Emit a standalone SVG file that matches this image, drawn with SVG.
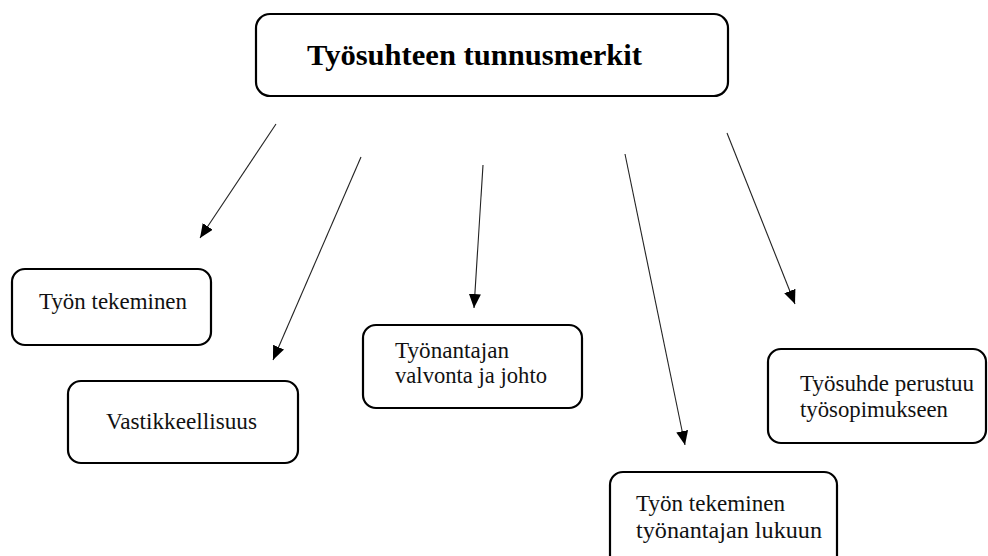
<svg xmlns="http://www.w3.org/2000/svg" width="988" height="556" viewBox="0 0 988 556">
<defs>
<marker id="ah" viewBox="0 0 14 12" refX="14" refY="6" markerWidth="14" markerHeight="12" markerUnits="userSpaceOnUse" orient="auto">
<path d="M0,0 L14,6 L0,12 Z" fill="#000"/>
</marker>
<style>
.box{fill:#fff;stroke:#000;stroke-width:2.2}
.t{font-family:'Liberation Serif','Times New Roman',serif;font-size:22.5px;fill:#111}
.title{font-family:'Liberation Serif','Times New Roman',serif;font-size:30px;font-weight:bold;fill:#000}
.c{stroke:#222;stroke-width:1.1;fill:none;marker-end:url(#ah)}
</style>
</defs>
<rect width="988" height="556" fill="#fff"/>
<g id="connectors">
<line class="c" x1="276" y1="124" x2="200" y2="238"/>
<line class="c" x1="361" y1="157" x2="273" y2="360"/>
<line class="c" x1="483" y1="165" x2="474" y2="308"/>
<line class="c" x1="625" y1="154" x2="685" y2="445"/>
<line class="c" x1="727" y1="133" x2="795" y2="304"/>
</g>
<g id="n-title">
<rect class="box" x="256" y="14" width="472" height="82" rx="14"/>
<text class="title" x="307" y="65" textLength="335" lengthAdjust="spacingAndGlyphs">Työsuhteen tunnusmerkit</text>
</g>
<g id="n-tekeminen">
<rect class="box" x="12" y="269" width="199" height="76" rx="13"/>
<text class="t" x="39" y="309" textLength="148" lengthAdjust="spacingAndGlyphs">Työn tekeminen</text>
</g>
<g id="n-vastikkeellisuus">
<rect class="box" x="68" y="381" width="230" height="82" rx="13"/>
<text class="t" x="106" y="429" textLength="151" lengthAdjust="spacingAndGlyphs">Vastikkeellisuus</text>
</g>
<g id="n-valvonta">
<rect class="box" x="363" y="325" width="219" height="83" rx="13"/>
<text class="t" x="395" y="358" textLength="114" lengthAdjust="spacingAndGlyphs">Työnantajan</text>
<text class="t" x="395" y="383" textLength="152" lengthAdjust="spacingAndGlyphs">valvonta ja johto</text>
</g>
<g id="n-lukuun">
<rect class="box" x="610" y="472" width="227" height="100" rx="13"/>
<text class="t" x="636" y="511" textLength="149" lengthAdjust="spacingAndGlyphs">Työn tekeminen</text>
<text class="t" x="636" y="538" textLength="186" lengthAdjust="spacingAndGlyphs">työnantajan lukuun</text>
</g>
<g id="n-sopimus">
<rect class="box" x="768" y="349" width="218" height="94" rx="13"/>
<text class="t" x="800" y="391" textLength="174" lengthAdjust="spacingAndGlyphs">Työsuhde perustuu</text>
<text class="t" x="800" y="417" textLength="148" lengthAdjust="spacingAndGlyphs">työsopimukseen</text>
</g>
</svg>
